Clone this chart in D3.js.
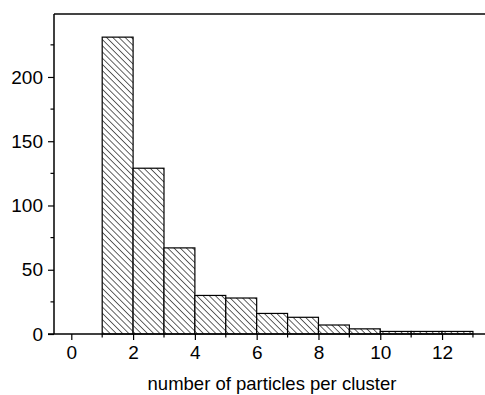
<!DOCTYPE html>
<html>
<head>
<meta charset="utf-8">
<script src="https://cdn.jsdelivr.net/npm/d3@7"></script>
<style>
  body { margin: 0; background: #fff; }
  text { font-family: "Liberation Sans", Arial, sans-serif; }
</style>
</head>
<body>
<div id="chart"></div>
<script>
var WIDTH = 485;
var HEIGHT = 395;

// cluster size bins: [start, end) and count
var BIN_START = [1, 2, 3, 4, 5, 6, 7, 8, 9, 10, 11, 12];
var BIN_END = [2, 3, 4, 5, 6, 7, 8, 9, 10, 11, 12, 13];
var COUNTS = [231, 129, 67, 30, 28, 16, 13, 7, 4, 2, 2, 2];

var X_TICKS = [0, 2, 4, 6, 8, 10, 12];
var X_MINOR = [1, 3, 5, 7, 9, 11, 13];
var Y_TICKS = [0, 50, 100, 150, 200];
var Y_MINOR = [25, 75, 125, 175, 225];

var margin = {top: 14, right: 0, bottom: 61, left: 54};

var svg = d3.select("#chart").append("svg")
  .attr("width", WIDTH)
  .attr("height", HEIGHT);

// backslash hatching
var HATCH = 4.4;
var pat = svg.append("defs").append("pattern")
  .attr("id", "hatch")
  .attr("patternUnits", "userSpaceOnUse")
  .attr("width", HATCH)
  .attr("height", HATCH)
  .attr("patternTransform", "rotate(-45)");
pat.append("rect").attr("width", HATCH).attr("height", HATCH).attr("fill", "#fff");
pat.append("line")
  .attr("x1", 0).attr("y1", 0).attr("x2", 0).attr("y2", HATCH)
  .attr("stroke", "#111").attr("stroke-width", 1.3);

var x = d3.scaleLinear()
  .domain([-0.56, 13.39])
  .range([margin.left, WIDTH - margin.right]);

var y = d3.scaleLinear()
  .domain([0, 249])
  .range([HEIGHT - margin.bottom, margin.top]);

var bins = BIN_START.map(function(s, i) {
  return {x0: s, x1: BIN_END[i], n: COUNTS[i]};
});

svg.append("g").selectAll("rect")
  .data(bins)
  .enter()
  .append("rect")
  .attr("x", d => x(d.x0))
  .attr("y", d => y(d.n))
  .attr("width", d => x(d.x1) - x(d.x0))
  .attr("height", d => y(0) - y(d.n))
  .attr("fill", "url(#hatch)")
  .attr("stroke", "#000")
  .attr("stroke-width", 1.2);

// top frame line
svg.append("line")
  .attr("x1", x.range()[0]).attr("x2", WIDTH)
  .attr("y1", y.range()[1]).attr("y2", y.range()[1])
  .attr("stroke", "#444").attr("stroke-width", 2);

// x axis
var xAxis = svg.append("g")
  .attr("transform", "translate(0," + y(0) + ")")
  .call(d3.axisBottom(x).tickValues(X_TICKS).tickSize(6).tickPadding(6).tickFormat(d3.format("d")));
xAxis.select(".domain").remove();
xAxis.append("line")
  .attr("x1", x.range()[0] - 6).attr("x2", WIDTH)
  .attr("stroke", "#000").attr("stroke-width", 1.5);
xAxis.selectAll(".tick line").attr("stroke-width", 1.2);
xAxis.selectAll("g.minor")
  .data(X_MINOR).enter()
  .append("line")
  .attr("x1", d => x(d)).attr("x2", d => x(d))
  .attr("y1", 0).attr("y2", 3.5)
  .attr("stroke", "#000").attr("stroke-width", 1.2);
xAxis.selectAll("text")
  .attr("font-size", 19)
  .attr("fill", "#000")
  .style("font-family", "'Liberation Sans', Arial, sans-serif");

// y axis
var yAxis = svg.append("g")
  .attr("transform", "translate(" + x.range()[0] + ",0)")
  .call(d3.axisLeft(y).tickValues(Y_TICKS).tickSize(6).tickPadding(5));
yAxis.select(".domain").remove();
yAxis.append("line")
  .attr("y1", y.range()[0]).attr("y2", y.range()[1])
  .attr("stroke", "#000").attr("stroke-width", 1.5);
yAxis.selectAll(".tick line").attr("stroke-width", 1.2);
yAxis.selectAll("g.minor")
  .data(Y_MINOR).enter()
  .append("line")
  .attr("y1", d => y(d)).attr("y2", d => y(d))
  .attr("x1", 0).attr("x2", -3.5)
  .attr("stroke", "#000").attr("stroke-width", 1.2);
yAxis.selectAll("text")
  .attr("font-size", 19)
  .attr("fill", "#000")
  .style("font-family", "'Liberation Sans', Arial, sans-serif");

svg.append("text")
  .attr("x", 272)
  .attr("y", 390)
  .attr("text-anchor", "middle")
  .attr("font-size", 18.5)
  .attr("fill", "#000")
  .text("number of particles per cluster");
</script>
</body>
</html>
